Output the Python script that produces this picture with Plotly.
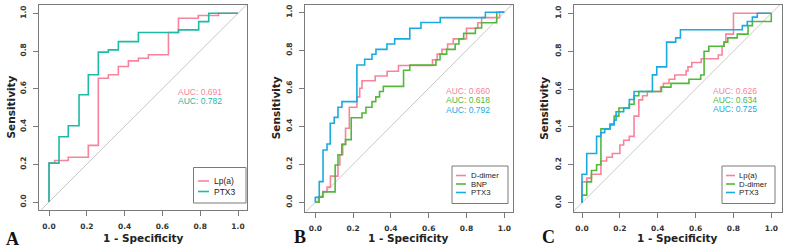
import plotly.graph_objects as go

W, H = 786, 252

# ---------------- data ----------------
# Panel A
a_lpa_fpr = [0, 0, 0.03, 0.102, 0.208, 0.261, 0.314, 0.367, 0.42, 0.473, 0.526, 0.632, 0.685, 0.79, 0.897, 1.0]
a_lpa_tpr = [0, 0.206, 0.22, 0.237, 0.30, 0.656, 0.674, 0.718, 0.748, 0.762, 0.78, 0.898, 0.974, 0.988, 1.0, 1.0]
a_ptx_fpr = [0, 0, 0.053, 0.102, 0.159, 0.208, 0.261, 0.314, 0.367, 0.473, 0.685, 0.792, 0.845, 1.0]
a_ptx_tpr = [0, 0.206, 0.346, 0.404, 0.568, 0.674, 0.794, 0.806, 0.850, 0.898, 0.912, 0.956, 1.0, 1.0]

# Panel B
b_dd_fpr = [0, 0.018, 0.04, 0.062, 0.08, 0.12, 0.13, 0.145, 0.16, 0.18, 0.22, 0.235, 0.247, 0.317, 0.38, 0.44,
            0.62, 0.645, 0.67, 0.70, 0.73, 0.80, 0.86, 0.88, 0.975, 1.0]
b_dd_tpr = [0, 0.03, 0.056, 0.08, 0.138, 0.196, 0.25, 0.305, 0.39, 0.50, 0.555, 0.60, 0.64, 0.665, 0.69, 0.72,
            0.75, 0.78, 0.805, 0.833, 0.86, 0.916, 0.945, 0.972, 1.0, 1.0]
b_bnp_fpr = [0, 0.02, 0.04, 0.105, 0.12, 0.14, 0.16, 0.19, 0.247, 0.268, 0.30, 0.32, 0.34, 0.36, 0.467, 0.50,
             0.638, 0.66, 0.695, 0.74, 0.76, 0.785, 0.847, 0.88, 0.96, 1.0]
b_bnp_tpr = [0, 0.027, 0.055, 0.196, 0.25, 0.305, 0.33, 0.445, 0.47, 0.50, 0.53, 0.555, 0.583, 0.61, 0.695, 0.722,
             0.75, 0.78, 0.805, 0.833, 0.86, 0.889, 0.917, 0.945, 1.0, 1.0]
b_ptx_fpr = [0, 0, 0.021, 0.041, 0.062, 0.079, 0.10, 0.12, 0.141, 0.22, 0.261, 0.30, 0.321, 0.379, 0.42, 0.50,
             0.559, 0.661, 0.90, 1.0]
b_ptx_tpr = [0, 0.026, 0.109, 0.275, 0.307, 0.416, 0.447, 0.50, 0.53, 0.723, 0.753, 0.779, 0.805, 0.833, 0.86, 0.916,
             0.946, 0.972, 1.0, 1.0]

# Panel C
c_lpa_fpr = [0, 0, 0.025, 0.05, 0.1, 0.13, 0.16, 0.2, 0.22, 0.25, 0.275, 0.30, 0.32, 0.345, 0.415, 0.43, 0.46,
             0.49, 0.55, 0.56, 0.58, 0.63, 0.72, 0.74, 0.75, 0.76, 0.80, 1.0]
c_lpa_tpr = [0, 0.11, 0.13, 0.15, 0.22, 0.24, 0.26, 0.305, 0.33, 0.35, 0.457, 0.543, 0.565, 0.587, 0.61, 0.63, 0.652,
             0.674, 0.696, 0.717, 0.74, 0.76, 0.78, 0.826, 0.848, 0.89, 1.0, 1.0]
c_dd_fpr = [0, 0, 0.025, 0.05, 0.077, 0.10, 0.148, 0.17, 0.195, 0.25, 0.275, 0.30, 0.42, 0.47, 0.565, 0.627, 0.645,
            0.67, 0.75, 0.77, 0.82, 0.877, 0.90, 1.0, 1.0]
c_dd_tpr = [0, 0.04, 0.11, 0.17, 0.20, 0.39, 0.41, 0.457, 0.50, 0.52, 0.565, 0.587, 0.61, 0.63, 0.652, 0.674, 0.80,
            0.826, 0.848, 0.87, 0.89, 0.935, 0.957, 0.957, 1.0]
c_ptx_fpr = [0, 0, 0.025, 0.077, 0.099, 0.12, 0.148, 0.17, 0.18, 0.22, 0.25, 0.275, 0.372, 0.395, 0.447, 0.495,
             0.52, 0.847, 0.873, 0.90, 0.926, 1.0]
c_ptx_tpr = [0, 0.15, 0.26, 0.35, 0.37, 0.39, 0.415, 0.435, 0.48, 0.50, 0.545, 0.587, 0.675, 0.717, 0.848, 0.87,
             0.913, 0.935, 0.957, 0.98, 1.0, 1.0]

tick_vals = [0, 0.2, 0.4, 0.6, 0.8, 1.0]
tick_text = ["0.0", "0.2", "0.4", "0.6", "0.8", "1.0"]

panel_labels = ["A", "B", "C"]
auc_a = [("Lp(a)", "0.691"), ("PTX3", "0.782")]
auc_b = [("D-dimer", "0.660"), ("BNP", "0.618"), ("PTX3", "0.792")]
auc_c = [("Lp(a)", "0.626"), ("D-dimer", "0.634"), ("PTX3", "0.725")]

# ---------------- styling ----------------
PINK = "#F7849B"
TEAL = "#1DBBA5"
GREEN = "#52B83A"
BLUE = "#1AAAE2"
FRAME = "#7a7a7a"

panels = [
    dict(curves=[(a_lpa_fpr, a_lpa_tpr, PINK, "Lp(a)"), (a_ptx_fpr, a_ptx_tpr, TEAL, "PTX3")],
         auc=auc_a,
         fx=(39, 247), fy=(5, 210), x0=49, x1=238, y1=13.3, y0=202,
         auc_x=200, auc_y=[92, 100.7],
         leg=dict(box=(193.5, 167.5, 246, 203), lx=(198, 209), tx=213, ly=[181, 191.5], fs=8.5),
         lab=(13, 239)),
    dict(curves=[(b_dd_fpr, b_dd_tpr, PINK, "D-dimer"), (b_bnp_fpr, b_bnp_tpr, GREEN, "BNP"),
                 (b_ptx_fpr, b_ptx_tpr, BLUE, "PTX3")],
         auc=auc_b,
         fx=(305, 513), fy=(5, 211.5), x0=315.3, x1=504.3, y1=12.3, y0=202.3,
         auc_x=468, auc_y=[90.5, 100, 109.5],
         leg=dict(box=(452, 166, 508, 203.5), lx=(456, 466), tx=470, ly=[175.5, 184, 192.5], fs=7.8),
         lab=(300, 237)),
    dict(curves=[(c_lpa_fpr, c_lpa_tpr, PINK, "Lp(a)"), (c_dd_fpr, c_dd_tpr, GREEN, "D-dimer"),
                 (c_ptx_fpr, c_ptx_tpr, BLUE, "PTX3")],
         auc=auc_c,
         fx=(573.5, 781.5), fy=(5, 211.5), x0=582, x1=771.3, y1=13.3, y0=202.7,
         auc_x=735, auc_y=[91, 100, 109],
         leg=dict(box=(722, 166, 775, 203.5), lx=(726, 735), tx=738, ly=[175.5, 184, 192.5], fs=7.8),
         lab=(548, 237)),
]

fig = go.Figure()
layout = dict(width=W, height=H, margin=dict(l=0, r=0, t=0, b=0),
              paper_bgcolor="white", plot_bgcolor="white", showlegend=False)
annotations = []
shapes = []

def px(x):
    return x / W

def py(y):
    return 1 - y / H

for i, p in enumerate(panels):
    n = "" if i == 0 else str(i + 1)
    xa, ya = "x" + n, "y" + n
    sx = p["x1"] - p["x0"]
    sy = p["y0"] - p["y1"]
    xr = [(p["fx"][0] - p["x0"]) / sx, 1 + (p["fx"][1] - p["x1"]) / sx]
    yr = [-(p["fy"][1] - p["y0"]) / sy, 1 + (p["y1"] - p["fy"][0]) / sy]
    axis_common = dict(showgrid=False, zeroline=False, showline=True, mirror=True, linecolor=FRAME, linewidth=1,
                       ticks="outside", ticklen=5, tickcolor=FRAME, tickwidth=1,
                       tickvals=tick_vals, ticktext=tick_text,
                       tickfont=dict(family="DejaVu Sans", size=7.5, color="#333333", weight="bold"))
    layout["xaxis" + n] = dict(axis_common, domain=[px(p["fx"][0]), px(p["fx"][1])], range=xr, anchor=ya,
                               ticklabelstandoff=4)
    layout["yaxis" + n] = dict(axis_common, domain=[py(p["fy"][1]), py(p["fy"][0])], range=yr, anchor=xa,
                               tickangle=-90, ticklabelstandoff=4)
    # diagonal reference
    fig.add_trace(go.Scatter(x=[-0.2, 1.2], y=[-0.2, 1.2], mode="lines", xaxis=xa, yaxis=ya,
                             line=dict(color="#c8c8c8", width=1), hoverinfo="skip"))
    for fpr, tpr, col, name in p["curves"]:
        fig.add_trace(go.Scatter(x=fpr, y=tpr, mode="lines", name=name, xaxis=xa, yaxis=ya,
                                 line=dict(color=col, width=1.6, shape="hv")))
    # AUC texts
    for (name, auc), ty, (_, _, col, _) in zip(p["auc"], p["auc_y"], p["curves"]):
        annotations.append(dict(x=px(p["auc_x"]), y=py(ty), xref="paper", yref="paper", showarrow=False,
                                text="AUC: " + auc, xanchor="center", yanchor="middle",
                                font=dict(family="Liberation Sans", size=8.5, color=col)))
    # legend box
    lg = p["leg"]
    shapes.append(dict(type="rect", xref="paper", yref="paper", x0=px(lg["box"][0]), x1=px(lg["box"][2]),
                       y0=py(lg["box"][3]), y1=py(lg["box"][1]), line=dict(color=FRAME, width=1),
                       fillcolor="white", layer="above"))
    for (_, _, col, name), ly in zip(p["curves"], lg["ly"]):
        shapes.append(dict(type="line", xref="paper", yref="paper", x0=px(lg["lx"][0]), x1=px(lg["lx"][1]),
                           y0=py(ly), y1=py(ly), line=dict(color=col, width=1.6), layer="above"))
        annotations.append(dict(x=px(lg["tx"]), y=py(ly), xref="paper", yref="paper", showarrow=False,
                                text=name, xanchor="left", yanchor="middle", borderpad=0,
                                font=dict(family="Liberation Sans", size=lg["fs"], color="#222222")))
    # axis titles
    cx = (p["fx"][0] + p["fx"][1]) / 2
    cy = (p["fy"][0] + p["fy"][1]) / 2
    annotations.append(dict(x=px(cx), y=py(238), xref="paper", yref="paper", showarrow=False,
                            text="<b>1 - Specificity</b>", xanchor="center", yanchor="middle",
                            font=dict(family="DejaVu Sans", size=10.5, color="#222222")))
    annotations.append(dict(x=px(p["fx"][0] - 29), y=py(cy), xref="paper", yref="paper", showarrow=False,
                            text="<b>Sensitivity</b>", xanchor="center", yanchor="middle", textangle=-90,
                            font=dict(family="DejaVu Sans", size=10.5, color="#222222")))
    # panel label
    annotations.append(dict(x=px(p["lab"][0]), y=py(p["lab"][1]), xref="paper", yref="paper", showarrow=False,
                            text="<b>" + panel_labels[i] + "</b>", xanchor="center", yanchor="middle",
                            font=dict(family="Liberation Serif", size=18, color="#111111")))

layout["annotations"] = annotations
layout["shapes"] = shapes
fig.update_layout(**layout)
fig.write_html("out.html")
